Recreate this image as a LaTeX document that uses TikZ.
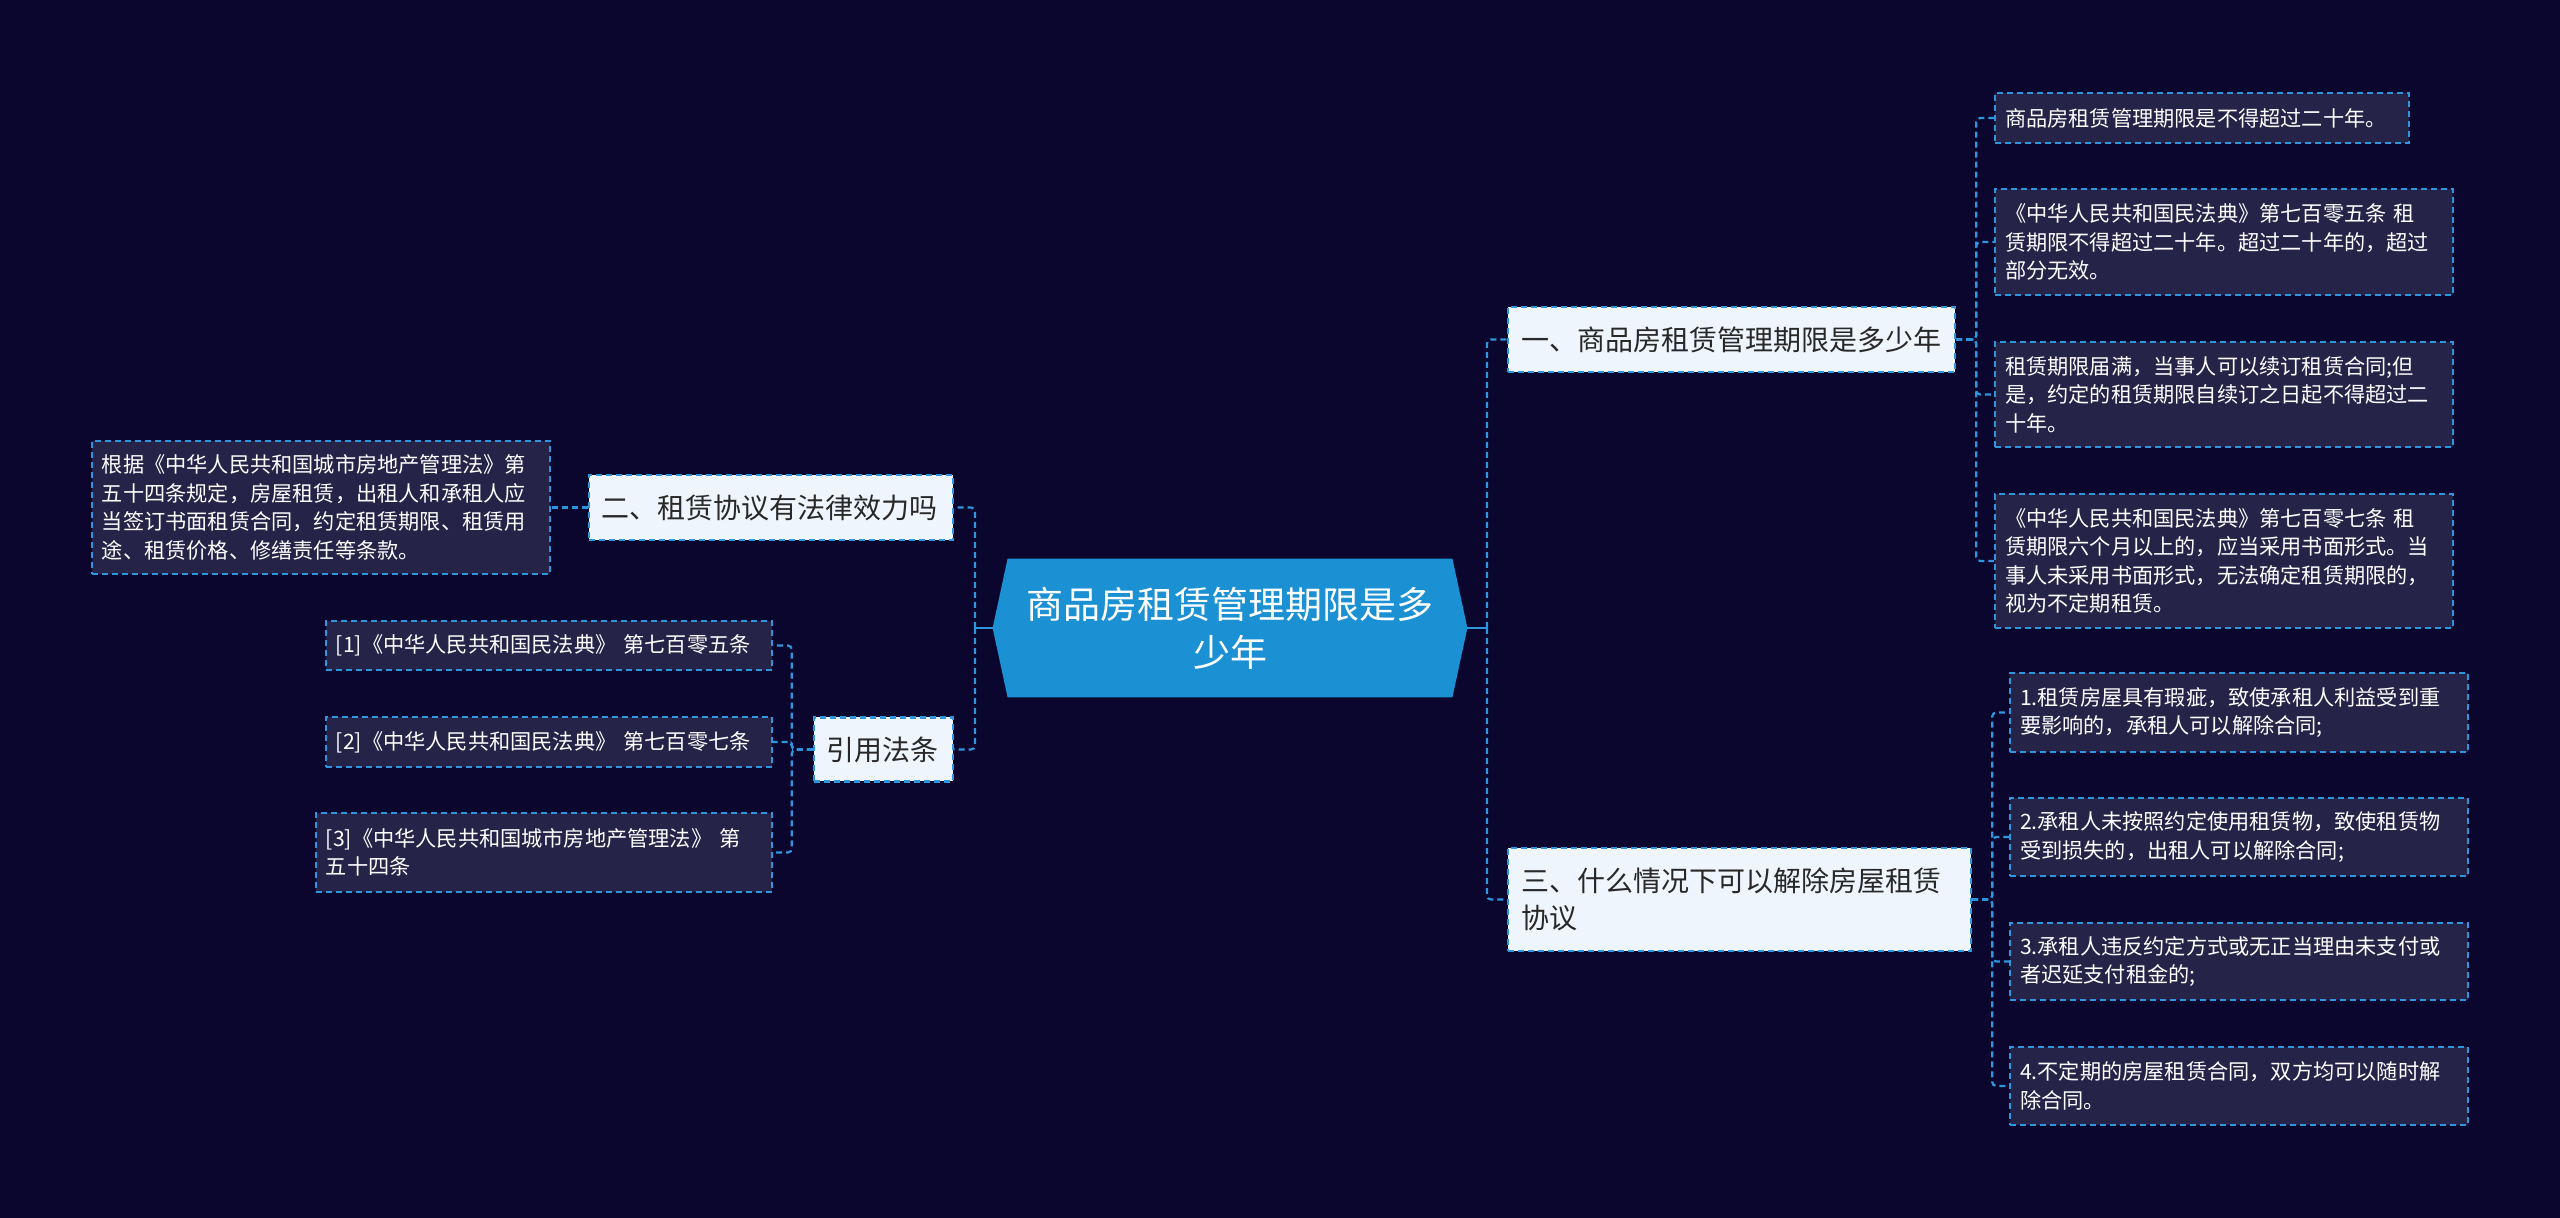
\documentclass[tikz,border=0pt]{standalone}
\usepackage{fontspec}
\usepackage{xcolor}
\usepackage{tikz}
\newfontfamily\cjk{Noto Sans CJK SC}
\definecolor{pagebg}{RGB}{10, 6, 46}
\definecolor{rootblue}{RGB}{27, 144, 211}
\definecolor{lineblue}{RGB}{45, 150, 222}
\definecolor{topicbg}{RGB}{238, 245, 253}
\definecolor{leafbg}{RGB}{38, 35, 72}
\definecolor{topictext}{RGB}{40, 40, 40}
\pgfdeclarelayer{back}
\pgfsetlayers{back,main}

\begin{document}
\begin{tikzpicture}[x=0.5pt, y=-0.5pt,
    link/.style={lineblue, line width=1.1pt, dash pattern=on 3pt off 2pt, rounded corners=2pt},
    stem/.style={lineblue, line width=1.1pt},
    topic/.style={draw=lineblue, line width=1.1pt, dash pattern=on 3pt off 2pt, fill=topicbg, text=topictext, anchor=west, align=left, inner xsep=6.5pt, inner ysep=2pt, font=\cjk\fontsize{14}{18.5}\selectfont},
    leaf/.style={draw=lineblue, line width=1.1pt, dash pattern=on 3pt off 2pt, fill=leafbg, text=white, anchor=west, align=left, inner xsep=5pt, inner ysep=2pt, font=\cjk\fontsize{10.6}{14.25}\selectfont}]

    \begin{pgfonlayer}{back}
        \fill[pagebg] (0,0) rectangle (2560,1218);
    \end{pgfonlayer}

    % centre
    \node[text=white, align=center, text width=210pt, minimum width=237pt, minimum height=69pt, inner sep=0pt, font=\cjk\fontsize{18.5}{24}\selectfont] (root) at (1230,628) {商品房租赁管理期限是多\\少年};
    \begin{pgfonlayer}{back}
        \fill[rootblue] (root.west) -- ([xshift=7.5pt]root.north west) -- ([xshift=-7.5pt]root.north east) -- (root.east) -- ([xshift=-7.5pt]root.south east) -- ([xshift=7.5pt]root.south west) -- cycle;
    \end{pgfonlayer}

    % topics
    \node[topic, text width=210.5pt, minimum height=32.5pt] (q1) at (1507,339.5) {一、商品房租赁管理期限是多少年};
    \node[topic, text width=218.5pt, minimum height=51.5pt] (q3) at (1507,899.5) {三、什么情况下可以解除房屋租赁\\协议};
    \node[topic, anchor=east, text width=169pt, minimum height=32.5pt] (q2) at (954,507.5) {二、租赁协议有法律效力吗};
    \node[topic, anchor=east, text width=56.5pt, minimum height=32pt] (cite) at (954,749.5) {引用法条};

    % leaves of q1
    \node[leaf, text width=197pt, minimum height=25pt] (a11) at (1994,118) {商品房租赁管理期限是不得超过二十年。};
    \node[leaf, text width=219pt, minimum height=53pt] (a12) at (1994,242) {《中华人民共和国民法典》第七百零五条~租\\赁期限不得超过二十年。超过二十年的，超过\\部分无效。};
    \node[leaf, text width=219pt, minimum height=52.5pt] (a13) at (1994,394.5) {租赁期限届满，当事人可以续订租赁合同;但\\是，约定的租赁期限自续订之日起不得超过二\\十年。};
    \node[leaf, text width=219pt, minimum height=67pt] (a14) at (1994,561) {《中华人民共和国民法典》第七百零七条~租\\赁期限六个月以上的，应当采用书面形式。当\\事人未采用书面形式，无法确定租赁期限的，\\视为不定期租赁。};

    % leaves of q3
    \node[leaf, text width=219pt, minimum height=39.5pt] (a31) at (2009,712.5) {1.租赁房屋具有瑕疵，致使承租人利益受到重\\要影响的，承租人可以解除合同;};
    \node[leaf, text width=219pt, minimum height=39pt] (a32) at (2009,837) {2.承租人未按照约定使用租赁物，致使租赁物\\受到损失的，出租人可以解除合同;};
    \node[leaf, text width=219pt, minimum height=38.5pt] (a33) at (2009,961.5) {3.承租人违反约定方式或无正当理由未支付或\\者迟延支付租金的;};
    \node[leaf, text width=219pt, minimum height=39pt] (a34) at (2009,1086) {4.不定期的房屋租赁合同，双方均可以随时解\\除合同。};

    % left side
    \node[leaf, anchor=east, text width=219pt, minimum height=66.5pt] (a21) at (551,507.5) {根据《中华人民共和国城市房地产管理法》第\\五十四条规定，房屋租赁，出租人和承租人应\\当签订书面租赁合同，约定租赁期限、租赁用\\途、租赁价格、修缮责任等条款。};
    \node[leaf, anchor=east, text width=213pt, minimum height=24.5pt] (c1) at (773,645.5) {[1]《中华人民共和国民法典》~第七百零五条};
    \node[leaf, anchor=east, text width=213pt, minimum height=25pt] (c2) at (773,742) {[2]《中华人民共和国民法典》~第七百零七条};
    \node[leaf, anchor=east, text width=218pt, minimum height=39.5pt] (c3) at (773,852.5) {[3]《中华人民共和国城市房地产管理法》~第\\五十四条};

    % connectors
    \coordinate (jr) at (1487,628);
    \coordinate (jl) at (975,628);
    \draw[stem] (root.east) -- (jr);
    \draw[stem] (root.west) -- (jl);
    \draw[link] (jr) |- (q1.west);
    \draw[link] (jr) |- (q3.west);
    \draw[link] (jl) |- (q2.east);
    \draw[link] (jl) |- (cite.east);
    \foreach \n in {a11,a12,a13,a14}
        \draw[link] (q1.east) -- ++(10pt,0) |- (\n.west);
    \foreach \n in {a31,a32,a33,a34}
        \draw[link] (q3.east) -- ++(10pt,0) |- (\n.west);
    \draw[link] (q2.west) -- (a21.east);
    \foreach \n in {c1,c2,c3}
        \draw[link] (cite.west) -- ++(-10.5pt,0) |- (\n.east);
\end{tikzpicture}
\end{document}
